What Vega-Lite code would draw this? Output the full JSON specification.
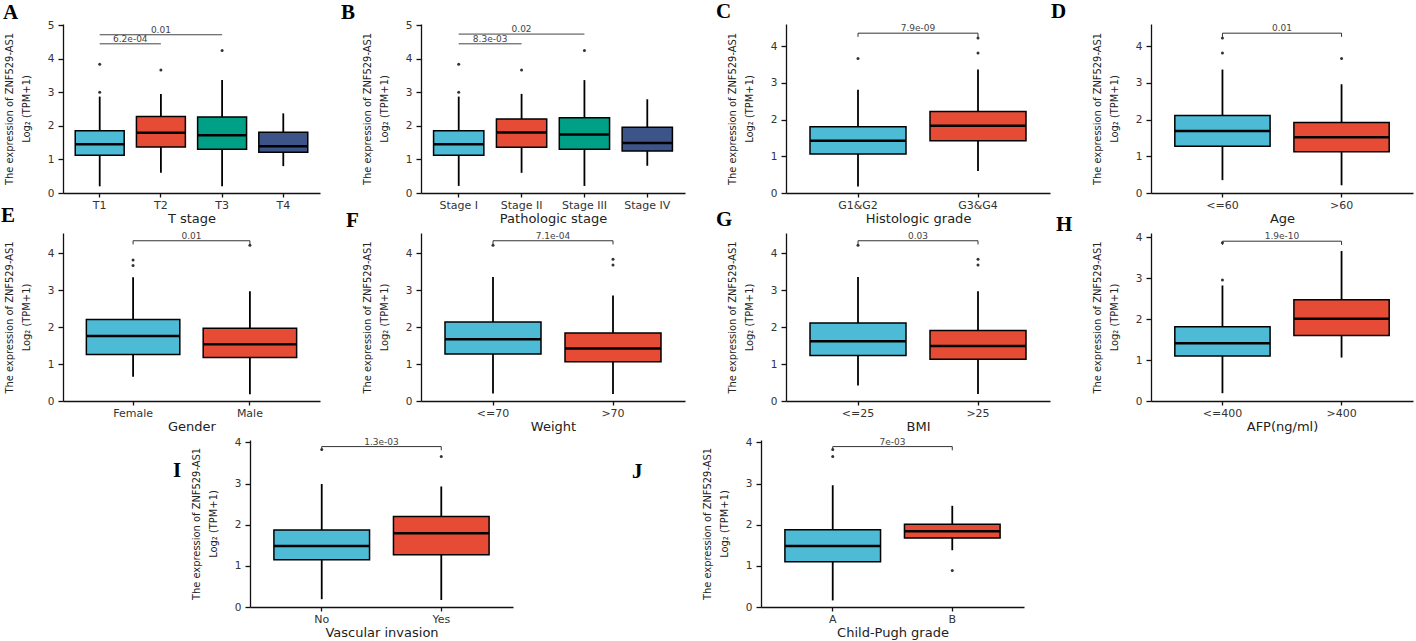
{
"$schema": "https://vega.github.io/schema/vega-lite/v6.json",
"background": "white",
"autosize": {"type": "none"},
"padding": {"left": 63, "top": 24, "right": 1353, "bottom": 617},
"spacing": 4,
"resolve": {"scale": {"color": "independent"}},
"vconcat": [
{
"columns": 4,
"align": "none",
"bounds": "flush",
"spacing": {"row": 40, "column": 101},
"resolve": {"scale": {"color": "independent"}},
"concat": [
{
 "width": 257, "height": 169,
 "title": {"text": "A", "dx": -60, "dy": 6.5},
 "layer": [
  {"encoding": {"x": {"field": "g", "type": "nominal", "scale": {"domain": ["T1","T2","T3","T4"], "paddingInner": 0.2, "paddingOuter": 0.2}, "axis": {"title": "T stage"}}},
   "layer": [
    {"data": {"values": [
      {"g":"T1","lo":0.2,"q1":1.12,"med":1.45,"q3":1.85,"hi":2.87},
      {"g":"T2","lo":0.6,"q1":1.37,"med":1.79,"q3":2.28,"hi":2.95},
      {"g":"T3","lo":0.2,"q1":1.30,"med":1.72,"q3":2.26,"hi":3.36},
      {"g":"T4","lo":0.8,"q1":1.21,"med":1.39,"q3":1.81,"hi":2.37}]},
     "layer": [
      {"mark": {"type":"rule","color":"black","strokeWidth":1.8}, "encoding": {"y": {"field":"lo","type":"quantitative","scale":{"domain":[0,5.03],"nice":false,"zero":false},"axis":{"values":[0,1,2,3,4,5],"tickCount":6,"labelOverlap":false,"title":["The expression of ZNF529-AS1","Log₂ (TPM+1)"]}}, "y2": {"field":"hi"}}},
      {"mark": {"type":"bar","stroke":"black","strokeWidth":1.5}, "encoding": {"y":{"field":"q1","type":"quantitative"},"y2":{"field":"q3"},"color":{"field":"g","type":"nominal","scale":{"domain":["T1","T2","T3","T4"],"range":["#4DBBD5","#E64B35","#00A087","#3C5488"]},"legend":null}}},
      {"mark": {"type":"bar","stroke":"black","strokeWidth":2.5,"fill":"transparent"}, "encoding": {"y":{"field":"med","type":"quantitative"},"y2":{"field":"med"}}}
     ]},
    {"data": {"values": [{"g":"T1","v":3.0},{"g":"T1","v":3.83},{"g":"T2","v":3.66},{"g":"T3","v":4.24}]},
     "mark": {"type":"circle","size":9,"color":"#333","opacity":1},
     "encoding": {"y": {"field":"v","type":"quantitative"}}}
   ]},
  {"data": {"values": [{"x1":1,"x2":3,"xm":2,"y":4.71,"label":"0.01"},{"x1":1,"x2":2,"xm":1.5,"y":4.44,"label":"6.2e-04"}]},
   "layer": [
    {"mark": {"type":"rule","color":"#444","strokeWidth":1}, "encoding": {"x":{"field":"x1","type":"quantitative","scale":{"domain":[0.4,4.6],"nice":false,"zero":false},"axis":null},"x2":{"field":"x2"},"y":{"field":"y","type":"quantitative"}}},
    {"mark": {"type":"text","fontSize":9,"dy":-2,"baseline":"alphabetic","color":"#444"}, "encoding": {"x":{"field":"xm","type":"quantitative","scale":{"domain":[0.4,4.6],"nice":false,"zero":false},"axis":null},"y":{"field":"y","type":"quantitative"},"text":{"field":"label"}}}
   ]}
 ],
 "resolve": {"scale": {"x": "independent"}}
},
{
 "width": 264, "height": 169,
 "title": {"text": "B", "dx": -80, "dy": 6.5},
 "layer": [
  {"encoding": {"x": {"field": "g", "type": "nominal", "scale": {"domain": ["Stage I","Stage II","Stage III","Stage IV"], "paddingInner": 0.2, "paddingOuter": 0.2}, "axis": {"title": "Pathologic stage"}}},
   "layer": [
    {"data": {"values": [
      {"g":"Stage I","lo":0.21,"q1":1.12,"med":1.45,"q3":1.85,"hi":2.87},
      {"g":"Stage II","lo":0.6,"q1":1.36,"med":1.8,"q3":2.2,"hi":2.95},
      {"g":"Stage III","lo":0.21,"q1":1.30,"med":1.74,"q3":2.24,"hi":3.36},
      {"g":"Stage IV","lo":0.81,"q1":1.25,"med":1.49,"q3":1.96,"hi":2.79}]},
     "layer": [
      {"mark": {"type":"rule","color":"black","strokeWidth":1.8}, "encoding": {"y": {"field":"lo","type":"quantitative","scale":{"domain":[0,5.03],"nice":false,"zero":false},"axis":{"values":[0,1,2,3,4,5],"tickCount":6,"labelOverlap":false,"title":["The expression of ZNF529-AS1","Log₂ (TPM+1)"]}}, "y2": {"field":"hi"}}},
      {"mark": {"type":"bar","stroke":"black","strokeWidth":1.5}, "encoding": {"y":{"field":"q1","type":"quantitative"},"y2":{"field":"q3"},"color":{"field":"g","type":"nominal","scale":{"domain":["Stage I","Stage II","Stage III","Stage IV"],"range":["#4DBBD5","#E64B35","#00A087","#3C5488"]},"legend":null}}},
      {"mark": {"type":"bar","stroke":"black","strokeWidth":2.5,"fill":"transparent"}, "encoding": {"y":{"field":"med","type":"quantitative"},"y2":{"field":"med"}}}
     ]},
    {"data": {"values": [{"g":"Stage I","v":3.0},{"g":"Stage I","v":3.83},{"g":"Stage II","v":3.66},{"g":"Stage III","v":4.24}]},
     "mark": {"type":"circle","size":9,"color":"#333","opacity":1},
     "encoding": {"y": {"field":"v","type":"quantitative"}}}
   ]},
  {"data": {"values": [{"x1":1,"x2":3,"xm":2,"y":4.73,"label":"0.02"},{"x1":1,"x2":2,"xm":1.5,"y":4.44,"label":"8.3e-03"}]},
   "layer": [
    {"mark": {"type":"rule","color":"#444","strokeWidth":1}, "encoding": {"x":{"field":"x1","type":"quantitative","scale":{"domain":[0.4,4.6],"nice":false,"zero":false},"axis":null},"x2":{"field":"x2"},"y":{"field":"y","type":"quantitative"}}},
    {"mark": {"type":"text","fontSize":9,"dy":-2,"baseline":"alphabetic","color":"#444"}, "encoding": {"x":{"field":"xm","type":"quantitative","scale":{"domain":[0.4,4.6],"nice":false,"zero":false},"axis":null},"y":{"field":"y","type":"quantitative"},"text":{"field":"label"}}}
   ]}
 ],
 "resolve": {"scale": {"x": "independent"}}
},
{
 "width": 264, "height": 169,
 "title": {"text": "C", "dx": -70, "dy": 2},
 "layer": [
  {"encoding": {"x": {"field": "g", "type": "nominal", "scale": {"domain": ["G1&G2","G3&G4"], "paddingInner": 0.2, "paddingOuter": 0.2}, "axis": {"title": "Histologic grade"}}},
   "layer": [
    {"data": {"values": [
      {"g":"G1&G2","lo":0.18,"q1":1.06,"med":1.42,"q3":1.80,"hi":2.81},
      {"g":"G3&G4","lo":0.6,"q1":1.42,"med":1.83,"q3":2.22,"hi":3.36}]},
     "layer": [
      {"mark": {"type":"rule","color":"black","strokeWidth":1.8}, "encoding": {"y": {"field":"lo","type":"quantitative","scale":{"domain":[0,4.6],"nice":false,"zero":false},"axis":{"values":[0,1,2,3,4],"labelOverlap":false,"title":["The expression of ZNF529-AS1","Log₂ (TPM+1)"]}}, "y2": {"field":"hi"}}},
      {"mark": {"type":"bar","stroke":"black","strokeWidth":1.5}, "encoding": {"y":{"field":"q1","type":"quantitative"},"y2":{"field":"q3"},"color":{"field":"g","type":"nominal","scale":{"domain":["G1&G2","G3&G4"],"range":["#4DBBD5","#E64B35"]},"legend":null}}},
      {"mark": {"type":"bar","stroke":"black","strokeWidth":2.5,"fill":"transparent"}, "encoding": {"y":{"field":"med","type":"quantitative"},"y2":{"field":"med"}}}
     ]},
    {"data": {"values": [{"g":"G1&G2","v":3.66},{"g":"G3&G4","v":3.81},{"g":"G3&G4","v":4.22}]},
     "mark": {"type":"circle","size":9,"color":"#333","opacity":1},
     "encoding": {"y": {"field":"v","type":"quantitative"}}}
   ]},
  {"data": {"values": [{"x1":1,"x2":2,"xm":1.5,"y":4.35,"tip":4.25,"label":"7.9e-09"}]},
   "layer": [
    {"mark": {"type":"rule","color":"#333","strokeWidth":1}, "encoding": {"x":{"field":"x1","type":"quantitative","scale":{"domain":[0.4,2.6],"nice":false,"zero":false},"axis":null},"x2":{"field":"x2"},"y":{"field":"y","type":"quantitative"}}},
    {"mark": {"type":"rule","color":"#333","strokeWidth":1}, "encoding": {"x":{"field":"x1","type":"quantitative","scale":{"domain":[0.4,2.6],"nice":false,"zero":false},"axis":null},"y":{"field":"y","type":"quantitative"},"y2":{"field":"tip"}}},
    {"mark": {"type":"rule","color":"#333","strokeWidth":1}, "encoding": {"x":{"field":"x2","type":"quantitative","scale":{"domain":[0.4,2.6],"nice":false,"zero":false},"axis":null},"y":{"field":"y","type":"quantitative"},"y2":{"field":"tip"}}},
    {"mark": {"type":"text","fontSize":9,"dy":-2,"baseline":"alphabetic","color":"#444"}, "encoding": {"x":{"field":"xm","type":"quantitative","scale":{"domain":[0.4,2.6],"nice":false,"zero":false},"axis":null},"y":{"field":"y","type":"quantitative"},"text":{"field":"label"}}}
   ]}
 ],
 "resolve": {"scale": {"x": "independent"}}
},
{
 "width": 262, "height": 169,
 "title": {"text": "D", "dx": -100, "dy": 2},
 "layer": [
  {"encoding": {"x": {"field": "g", "type": "nominal", "scale": {"domain": ["<=60",">60"], "paddingInner": 0.2, "paddingOuter": 0.2}, "axis": {"title": "Age"}}},
   "layer": [
    {"data": {"values": [
      {"g":"<=60","lo":0.35,"q1":1.27,"med":1.69,"q3":2.11,"hi":3.36},
      {"g":">60","lo":0.21,"q1":1.12,"med":1.52,"q3":1.92,"hi":2.96}]},
     "layer": [
      {"mark": {"type":"rule","color":"black","strokeWidth":1.8}, "encoding": {"y": {"field":"lo","type":"quantitative","scale":{"domain":[0,4.6],"nice":false,"zero":false},"axis":{"values":[0,1,2,3,4],"labelOverlap":false,"title":["The expression of ZNF529-AS1","Log₂ (TPM+1)"]}}, "y2": {"field":"hi"}}},
      {"mark": {"type":"bar","stroke":"black","strokeWidth":1.5}, "encoding": {"y":{"field":"q1","type":"quantitative"},"y2":{"field":"q3"},"color":{"field":"g","type":"nominal","scale":{"domain":["<=60",">60"],"range":["#4DBBD5","#E64B35"]},"legend":null}}},
      {"mark": {"type":"bar","stroke":"black","strokeWidth":2.5,"fill":"transparent"}, "encoding": {"y":{"field":"med","type":"quantitative"},"y2":{"field":"med"}}}
     ]},
    {"data": {"values": [{"g":"<=60","v":3.81},{"g":"<=60","v":4.22},{"g":">60","v":3.66}]},
     "mark": {"type":"circle","size":9,"color":"#333","opacity":1},
     "encoding": {"y": {"field":"v","type":"quantitative"}}}
   ]},
  {"data": {"values": [{"x1":1,"x2":2,"xm":1.5,"y":4.35,"tip":4.25,"label":"0.01"}]},
   "layer": [
    {"mark": {"type":"rule","color":"#333","strokeWidth":1}, "encoding": {"x":{"field":"x1","type":"quantitative","scale":{"domain":[0.4,2.6],"nice":false,"zero":false},"axis":null},"x2":{"field":"x2"},"y":{"field":"y","type":"quantitative"}}},
    {"mark": {"type":"rule","color":"#333","strokeWidth":1}, "encoding": {"x":{"field":"x1","type":"quantitative","scale":{"domain":[0.4,2.6],"nice":false,"zero":false},"axis":null},"y":{"field":"y","type":"quantitative"},"y2":{"field":"tip"}}},
    {"mark": {"type":"rule","color":"#333","strokeWidth":1}, "encoding": {"x":{"field":"x2","type":"quantitative","scale":{"domain":[0.4,2.6],"nice":false,"zero":false},"axis":null},"y":{"field":"y","type":"quantitative"},"y2":{"field":"tip"}}},
    {"mark": {"type":"text","fontSize":9,"dy":-2,"baseline":"alphabetic","color":"#444"}, "encoding": {"x":{"field":"xm","type":"quantitative","scale":{"domain":[0.4,2.6],"nice":false,"zero":false},"axis":null},"y":{"field":"y","type":"quantitative"},"text":{"field":"label"}}}
   ]}
 ],
 "resolve": {"scale": {"x": "independent"}}
},
{
 "width": 257, "height": 168,
 "title": {"text": "E", "dx": -62, "dy": -2},
 "layer": [
  {"encoding": {"x": {"field": "g", "type": "nominal", "scale": {"domain": ["Female","Male"], "paddingInner": 0.2, "paddingOuter": 0.2}, "axis": {"title": "Gender"}}},
   "layer": [
    {"data": {"values": [
      {"g":"Female","lo":0.66,"q1":1.26,"med":1.76,"q3":2.21,"hi":3.35},
      {"g":"Male","lo":0.18,"q1":1.18,"med":1.54,"q3":1.97,"hi":2.97}]},
     "layer": [
      {"mark": {"type":"rule","color":"black","strokeWidth":1.8}, "encoding": {"y": {"field":"lo","type":"quantitative","scale":{"domain":[0,4.55],"nice":false,"zero":false},"axis":{"values":[0,1,2,3,4],"labelOverlap":false,"title":["The expression of ZNF529-AS1","Log₂ (TPM+1)"]}}, "y2": {"field":"hi"}}},
      {"mark": {"type":"bar","stroke":"black","strokeWidth":1.5}, "encoding": {"y":{"field":"q1","type":"quantitative"},"y2":{"field":"q3"},"color":{"field":"g","type":"nominal","scale":{"domain":["Female","Male"],"range":["#4DBBD5","#E64B35"]},"legend":null}}},
      {"mark": {"type":"bar","stroke":"black","strokeWidth":2.5,"fill":"transparent"}, "encoding": {"y":{"field":"med","type":"quantitative"},"y2":{"field":"med"}}}
     ]},
    {"data": {"values": [{"g":"Female","v":3.67},{"g":"Female","v":3.82},{"g":"Male","v":4.22}]},
     "mark": {"type":"circle","size":9,"color":"#333","opacity":1},
     "encoding": {"y": {"field":"v","type":"quantitative"}}}
   ]},
  {"data": {"values": [{"x1":1,"x2":2,"xm":1.5,"y":4.34,"tip":4.24,"label":"0.01"}]},
   "layer": [
    {"mark": {"type":"rule","color":"#333","strokeWidth":1}, "encoding": {"x":{"field":"x1","type":"quantitative","scale":{"domain":[0.4,2.6],"nice":false,"zero":false},"axis":null},"x2":{"field":"x2"},"y":{"field":"y","type":"quantitative"}}},
    {"mark": {"type":"rule","color":"#333","strokeWidth":1}, "encoding": {"x":{"field":"x1","type":"quantitative","scale":{"domain":[0.4,2.6],"nice":false,"zero":false},"axis":null},"y":{"field":"y","type":"quantitative"},"y2":{"field":"tip"}}},
    {"mark": {"type":"rule","color":"#333","strokeWidth":1}, "encoding": {"x":{"field":"x2","type":"quantitative","scale":{"domain":[0.4,2.6],"nice":false,"zero":false},"axis":null},"y":{"field":"y","type":"quantitative"},"y2":{"field":"tip"}}},
    {"mark": {"type":"text","fontSize":9,"dy":-2,"baseline":"alphabetic","color":"#444"}, "encoding": {"x":{"field":"xm","type":"quantitative","scale":{"domain":[0.4,2.6],"nice":false,"zero":false},"axis":null},"y":{"field":"y","type":"quantitative"},"text":{"field":"label"}}}
   ]}
 ],
 "resolve": {"scale": {"x": "independent"}}
},
{
 "width": 264, "height": 168,
 "title": {"text": "F", "dx": -75, "dy": 3.5},
 "layer": [
  {"encoding": {"x": {"field": "g", "type": "nominal", "scale": {"domain": ["<=70",">70"], "paddingInner": 0.2, "paddingOuter": 0.2}, "axis": {"title": "Weight"}}},
   "layer": [
    {"data": {"values": [
      {"g":"<=70","lo":0.2,"q1":1.27,"med":1.67,"q3":2.14,"hi":3.36},
      {"g":">70","lo":0.19,"q1":1.06,"med":1.42,"q3":1.84,"hi":2.86}]},
     "layer": [
      {"mark": {"type":"rule","color":"black","strokeWidth":1.8}, "encoding": {"y": {"field":"lo","type":"quantitative","scale":{"domain":[0,4.55],"nice":false,"zero":false},"axis":{"values":[0,1,2,3,4],"labelOverlap":false,"title":["The expression of ZNF529-AS1","Log₂ (TPM+1)"]}}, "y2": {"field":"hi"}}},
      {"mark": {"type":"bar","stroke":"black","strokeWidth":1.5}, "encoding": {"y":{"field":"q1","type":"quantitative"},"y2":{"field":"q3"},"color":{"field":"g","type":"nominal","scale":{"domain":["<=70",">70"],"range":["#4DBBD5","#E64B35"]},"legend":null}}},
      {"mark": {"type":"bar","stroke":"black","strokeWidth":2.5,"fill":"transparent"}, "encoding": {"y":{"field":"med","type":"quantitative"},"y2":{"field":"med"}}}
     ]},
    {"data": {"values": [{"g":"<=70","v":4.22},{"g":">70","v":3.68},{"g":">70","v":3.84}]},
     "mark": {"type":"circle","size":9,"color":"#333","opacity":1},
     "encoding": {"y": {"field":"v","type":"quantitative"}}}
   ]},
  {"data": {"values": [{"x1":1,"x2":2,"xm":1.5,"y":4.34,"tip":4.24,"label":"7.1e-04"}]},
   "layer": [
    {"mark": {"type":"rule","color":"#333","strokeWidth":1}, "encoding": {"x":{"field":"x1","type":"quantitative","scale":{"domain":[0.4,2.6],"nice":false,"zero":false},"axis":null},"x2":{"field":"x2"},"y":{"field":"y","type":"quantitative"}}},
    {"mark": {"type":"rule","color":"#333","strokeWidth":1}, "encoding": {"x":{"field":"x1","type":"quantitative","scale":{"domain":[0.4,2.6],"nice":false,"zero":false},"axis":null},"y":{"field":"y","type":"quantitative"},"y2":{"field":"tip"}}},
    {"mark": {"type":"rule","color":"#333","strokeWidth":1}, "encoding": {"x":{"field":"x2","type":"quantitative","scale":{"domain":[0.4,2.6],"nice":false,"zero":false},"axis":null},"y":{"field":"y","type":"quantitative"},"y2":{"field":"tip"}}},
    {"mark": {"type":"text","fontSize":9,"dy":-2,"baseline":"alphabetic","color":"#444"}, "encoding": {"x":{"field":"xm","type":"quantitative","scale":{"domain":[0.4,2.6],"nice":false,"zero":false},"axis":null},"y":{"field":"y","type":"quantitative"},"text":{"field":"label"}}}
   ]}
 ],
 "resolve": {"scale": {"x": "independent"}}
},
{
 "width": 264, "height": 168,
 "title": {"text": "G", "dx": -70, "dy": 2},
 "layer": [
  {"encoding": {"x": {"field": "g", "type": "nominal", "scale": {"domain": ["<=25",">25"], "paddingInner": 0.2, "paddingOuter": 0.2}, "axis": {"title": "BMI"}}},
   "layer": [
    {"data": {"values": [
      {"g":"<=25","lo":0.42,"q1":1.23,"med":1.62,"q3":2.11,"hi":3.36},
      {"g":">25","lo":0.19,"q1":1.13,"med":1.49,"q3":1.91,"hi":2.97}]},
     "layer": [
      {"mark": {"type":"rule","color":"black","strokeWidth":1.8}, "encoding": {"y": {"field":"lo","type":"quantitative","scale":{"domain":[0,4.55],"nice":false,"zero":false},"axis":{"values":[0,1,2,3,4],"labelOverlap":false,"title":["The expression of ZNF529-AS1","Log₂ (TPM+1)"]}}, "y2": {"field":"hi"}}},
      {"mark": {"type":"bar","stroke":"black","strokeWidth":1.5}, "encoding": {"y":{"field":"q1","type":"quantitative"},"y2":{"field":"q3"},"color":{"field":"g","type":"nominal","scale":{"domain":["<=25",">25"],"range":["#4DBBD5","#E64B35"]},"legend":null}}},
      {"mark": {"type":"bar","stroke":"black","strokeWidth":2.5,"fill":"transparent"}, "encoding": {"y":{"field":"med","type":"quantitative"},"y2":{"field":"med"}}}
     ]},
    {"data": {"values": [{"g":"<=25","v":4.22},{"g":">25","v":3.68},{"g":">25","v":3.84}]},
     "mark": {"type":"circle","size":9,"color":"#333","opacity":1},
     "encoding": {"y": {"field":"v","type":"quantitative"}}}
   ]},
  {"data": {"values": [{"x1":1,"x2":2,"xm":1.5,"y":4.34,"tip":4.24,"label":"0.03"}]},
   "layer": [
    {"mark": {"type":"rule","color":"#333","strokeWidth":1}, "encoding": {"x":{"field":"x1","type":"quantitative","scale":{"domain":[0.4,2.6],"nice":false,"zero":false},"axis":null},"x2":{"field":"x2"},"y":{"field":"y","type":"quantitative"}}},
    {"mark": {"type":"rule","color":"#333","strokeWidth":1}, "encoding": {"x":{"field":"x1","type":"quantitative","scale":{"domain":[0.4,2.6],"nice":false,"zero":false},"axis":null},"y":{"field":"y","type":"quantitative"},"y2":{"field":"tip"}}},
    {"mark": {"type":"rule","color":"#333","strokeWidth":1}, "encoding": {"x":{"field":"x2","type":"quantitative","scale":{"domain":[0.4,2.6],"nice":false,"zero":false},"axis":null},"y":{"field":"y","type":"quantitative"},"y2":{"field":"tip"}}},
    {"mark": {"type":"text","fontSize":9,"dy":-2,"baseline":"alphabetic","color":"#444"}, "encoding": {"x":{"field":"xm","type":"quantitative","scale":{"domain":[0.4,2.6],"nice":false,"zero":false},"axis":null},"y":{"field":"y","type":"quantitative"},"text":{"field":"label"}}}
   ]}
 ],
 "resolve": {"scale": {"x": "independent"}}
},
{
 "width": 262, "height": 168,
 "title": {"text": "H", "dx": -95, "dy": 6.5},
 "layer": [
  {"encoding": {"x": {"field": "g", "type": "nominal", "scale": {"domain": ["<=400",">400"], "paddingInner": 0.2, "paddingOuter": 0.2}, "axis": {"title": "AFP(ng/ml)"}}},
   "layer": [
    {"data": {"values": [
      {"g":"<=400","lo":0.19,"q1":1.10,"med":1.41,"q3":1.81,"hi":2.82},
      {"g":">400","lo":1.06,"q1":1.60,"med":2.01,"q3":2.47,"hi":3.66}]},
     "layer": [
      {"mark": {"type":"rule","color":"black","strokeWidth":1.8}, "encoding": {"y": {"field":"lo","type":"quantitative","scale":{"domain":[0,4.1],"nice":false,"zero":false},"axis":{"values":[0,1,2,3,4],"labelOverlap":false,"title":["The expression of ZNF529-AS1","Log₂ (TPM+1)"]}}, "y2": {"field":"hi"}}},
      {"mark": {"type":"bar","stroke":"black","strokeWidth":1.5}, "encoding": {"y":{"field":"q1","type":"quantitative"},"y2":{"field":"q3"},"color":{"field":"g","type":"nominal","scale":{"domain":["<=400",">400"],"range":["#4DBBD5","#E64B35"]},"legend":null}}},
      {"mark": {"type":"bar","stroke":"black","strokeWidth":2.5,"fill":"transparent"}, "encoding": {"y":{"field":"med","type":"quantitative"},"y2":{"field":"med"}}}
     ]},
    {"data": {"values": [{"g":"<=400","v":2.95},{"g":"<=400","v":3.86}]},
     "mark": {"type":"circle","size":9,"color":"#333","opacity":1},
     "encoding": {"y": {"field":"v","type":"quantitative"}}}
   ]},
  {"data": {"values": [{"x1":1,"x2":2,"xm":1.5,"y":3.9,"tip":3.81,"label":"1.9e-10"}]},
   "layer": [
    {"mark": {"type":"rule","color":"#333","strokeWidth":1}, "encoding": {"x":{"field":"x1","type":"quantitative","scale":{"domain":[0.4,2.6],"nice":false,"zero":false},"axis":null},"x2":{"field":"x2"},"y":{"field":"y","type":"quantitative"}}},
    {"mark": {"type":"rule","color":"#333","strokeWidth":1}, "encoding": {"x":{"field":"x1","type":"quantitative","scale":{"domain":[0.4,2.6],"nice":false,"zero":false},"axis":null},"y":{"field":"y","type":"quantitative"},"y2":{"field":"tip"}}},
    {"mark": {"type":"rule","color":"#333","strokeWidth":1}, "encoding": {"x":{"field":"x2","type":"quantitative","scale":{"domain":[0.4,2.6],"nice":false,"zero":false},"axis":null},"y":{"field":"y","type":"quantitative"},"y2":{"field":"tip"}}},
    {"mark": {"type":"text","fontSize":9,"dy":-2,"baseline":"alphabetic","color":"#444"}, "encoding": {"x":{"field":"xm","type":"quantitative","scale":{"domain":[0.4,2.6],"nice":false,"zero":false},"axis":null},"y":{"field":"y","type":"quantitative"},"text":{"field":"label"}}}
   ]}
 ],
 "resolve": {"scale": {"x": "independent"}}
}
]
},
{
"bounds": "flush",
"spacing": 100,
"resolve": {"scale": {"color": "independent"}},
"hconcat": [
{"width": 87, "height": 167, "data": {"values": []}, "mark": "point"},
{
 "width": 263, "height": 167,
 "title": {"text": "I", "dx": -77, "dy": 47.3},
 "layer": [
  {"encoding": {"x": {"field": "g", "type": "nominal", "scale": {"domain": ["No","Yes"], "paddingInner": 0.2, "paddingOuter": 0.2}, "axis": {"title": "Vascular invasion"}}},
   "layer": [
    {"data": {"values": [
      {"g":"No","lo":0.19,"q1":1.15,"med":1.48,"q3":1.87,"hi":2.99},
      {"g":"Yes","lo":0.17,"q1":1.27,"med":1.79,"q3":2.20,"hi":2.93}]},
     "layer": [
      {"mark": {"type":"rule","color":"black","strokeWidth":1.8}, "encoding": {"y": {"field":"lo","type":"quantitative","scale":{"domain":[0,4.06],"nice":false,"zero":false},"axis":{"values":[0,1,2,3,4],"labelOverlap":false,"title":["The expression of ZNF529-AS1","Log₂ (TPM+1)"]}}, "y2": {"field":"hi"}}},
      {"mark": {"type":"bar","stroke":"black","strokeWidth":1.5}, "encoding": {"y":{"field":"q1","type":"quantitative"},"y2":{"field":"q3"},"color":{"field":"g","type":"nominal","scale":{"domain":["No","Yes"],"range":["#4DBBD5","#E64B35"]},"legend":null}}},
      {"mark": {"type":"bar","stroke":"black","strokeWidth":2.5,"fill":"transparent"}, "encoding": {"y":{"field":"med","type":"quantitative"},"y2":{"field":"med"}}}
     ]},
    {"data": {"values": [{"g":"No","v":3.83},{"g":"Yes","v":3.66}]},
     "mark": {"type":"circle","size":9,"color":"#333","opacity":1},
     "encoding": {"y": {"field":"v","type":"quantitative"}}}
   ]},
  {"data": {"values": [{"x1":1,"x2":2,"xm":1.5,"y":3.9,"tip":3.81,"label":"1.3e-03"}]},
   "layer": [
    {"mark": {"type":"rule","color":"#333","strokeWidth":1}, "encoding": {"x":{"field":"x1","type":"quantitative","scale":{"domain":[0.4,2.6],"nice":false,"zero":false},"axis":null},"x2":{"field":"x2"},"y":{"field":"y","type":"quantitative"}}},
    {"mark": {"type":"rule","color":"#333","strokeWidth":1}, "encoding": {"x":{"field":"x1","type":"quantitative","scale":{"domain":[0.4,2.6],"nice":false,"zero":false},"axis":null},"y":{"field":"y","type":"quantitative"},"y2":{"field":"tip"}}},
    {"mark": {"type":"rule","color":"#333","strokeWidth":1}, "encoding": {"x":{"field":"x2","type":"quantitative","scale":{"domain":[0.4,2.6],"nice":false,"zero":false},"axis":null},"y":{"field":"y","type":"quantitative"},"y2":{"field":"tip"}}},
    {"mark": {"type":"text","fontSize":9,"dy":-2,"baseline":"alphabetic","color":"#444"}, "encoding": {"x":{"field":"xm","type":"quantitative","scale":{"domain":[0.4,2.6],"nice":false,"zero":false},"axis":null},"y":{"field":"y","type":"quantitative"},"text":{"field":"label"}}}
   ]}
 ],
 "resolve": {"scale": {"x": "independent"}}
},
{"width": 48, "height": 167, "data": {"values": []}, "mark": "point"},
{
 "width": 263, "height": 167,
 "title": {"text": "J", "dx": -129, "dy": 48.3},
 "layer": [
  {"encoding": {"x": {"field": "g", "type": "nominal", "scale": {"domain": ["A","B"], "paddingInner": 0.2, "paddingOuter": 0.2}, "axis": {"title": "Child-Pugh grade"}}},
   "layer": [
    {"data": {"values": [
      {"g":"A","lo":0.16,"q1":1.10,"med":1.48,"q3":1.88,"hi":2.96},
      {"g":"B","lo":1.38,"q1":1.68,"med":1.84,"q3":2.01,"hi":2.46}]},
     "layer": [
      {"mark": {"type":"rule","color":"black","strokeWidth":1.8}, "encoding": {"y": {"field":"lo","type":"quantitative","scale":{"domain":[0,4.06],"nice":false,"zero":false},"axis":{"values":[0,1,2,3,4],"labelOverlap":false,"title":["The expression of ZNF529-AS1","Log₂ (TPM+1)"]}}, "y2": {"field":"hi"}}},
      {"mark": {"type":"bar","stroke":"black","strokeWidth":1.5}, "encoding": {"y":{"field":"q1","type":"quantitative"},"y2":{"field":"q3"},"color":{"field":"g","type":"nominal","scale":{"domain":["A","B"],"range":["#4DBBD5","#E64B35"]},"legend":null}}},
      {"mark": {"type":"bar","stroke":"black","strokeWidth":2.5,"fill":"transparent"}, "encoding": {"y":{"field":"med","type":"quantitative"},"y2":{"field":"med"}}}
     ]},
    {"data": {"values": [{"g":"A","v":3.66},{"g":"A","v":3.83},{"g":"B","v":0.89}]},
     "mark": {"type":"circle","size":9,"color":"#333","opacity":1},
     "encoding": {"y": {"field":"v","type":"quantitative"}}}
   ]},
  {"data": {"values": [{"x1":1,"x2":2,"xm":1.5,"y":3.9,"tip":3.81,"label":"7e-03"}]},
   "layer": [
    {"mark": {"type":"rule","color":"#333","strokeWidth":1}, "encoding": {"x":{"field":"x1","type":"quantitative","scale":{"domain":[0.4,2.6],"nice":false,"zero":false},"axis":null},"x2":{"field":"x2"},"y":{"field":"y","type":"quantitative"}}},
    {"mark": {"type":"rule","color":"#333","strokeWidth":1}, "encoding": {"x":{"field":"x1","type":"quantitative","scale":{"domain":[0.4,2.6],"nice":false,"zero":false},"axis":null},"y":{"field":"y","type":"quantitative"},"y2":{"field":"tip"}}},
    {"mark": {"type":"rule","color":"#333","strokeWidth":1}, "encoding": {"x":{"field":"x2","type":"quantitative","scale":{"domain":[0.4,2.6],"nice":false,"zero":false},"axis":null},"y":{"field":"y","type":"quantitative"},"y2":{"field":"tip"}}},
    {"mark": {"type":"text","fontSize":9,"dy":-2,"baseline":"alphabetic","color":"#444"}, "encoding": {"x":{"field":"xm","type":"quantitative","scale":{"domain":[0.4,2.6],"nice":false,"zero":false},"axis":null},"y":{"field":"y","type":"quantitative"},"text":{"field":"label"}}}
   ]}
 ],
 "resolve": {"scale": {"x": "independent"}}
}
]
}
],
"config": {
 "view": {"stroke": null},
 "font": "DejaVu Sans",
 "axis": {"grid": false, "domainColor": "#111", "domainWidth": 1.3, "tickColor": "#111", "tickWidth": 1.3, "labelFont": "DejaVu Sans", "labelFontSize": 10.5, "labelColor": "#333", "titleFont": "DejaVu Sans", "titleFontSize": 13, "titleFontWeight": "normal", "titleColor": "#222"},
 "axisX": {"labelAngle": 0, "tickSize": 4, "labelPadding": 2, "titlePadding": 2, "labelFontSize": 11},
 "axisY": {"tickSize": 5, "labelPadding": 4, "titlePadding": 16, "labelOverlap": false, "titleFont": "DejaVu Sans Condensed", "titleFontSize": 11, "titleLineHeight": 17, "titleColor": "#222"},
 "title": {"font": "'Liberation Serif', 'DejaVu Serif', serif", "fontSize": 21, "fontWeight": "bold", "color": "black", "anchor": "start", "frame": "group", "offset": 0, "baseline": "alphabetic"}
}
}
